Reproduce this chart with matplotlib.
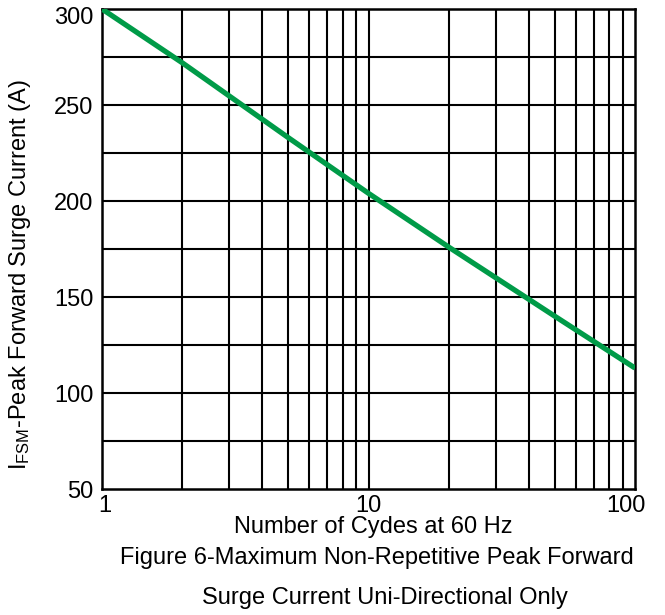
import matplotlib
matplotlib.use("Agg")
import matplotlib.pyplot as plt
from matplotlib.ticker import FixedLocator, NullFormatter
from matplotlib.transforms import ScaledTranslation

plt.rcParams['font.family'] = ['Liberation Sans', 'DejaVu Sans']
plt.rcParams['mathtext.fontset'] = 'custom'
plt.rcParams['mathtext.rm'] = 'Liberation Sans'
plt.rcParams['mathtext.it'] = 'Liberation Sans'

# surge current curve
cycles = [1, 2, 5, 10, 20, 50, 100]
current = [300, 272, 233, 204, 176, 140, 113]

y_ticks = [50, 100, 150, 200, 250, 300]
y_grid = [75, 100, 125, 150, 175, 200, 225, 250, 275]
x_ticks = [1, 10, 100]
x_tick_labels = ["1", "10", "100"]
x_grid = [2, 3, 4, 5, 6, 7, 8, 9, 10, 20, 30, 40, 50, 60, 70, 80, 90]

FS = 17

fig = plt.figure(figsize=(6.65, 6.15), dpi=100)
ax = fig.add_axes([102 / 665, 1 - 489 / 615, 533 / 665, 480 / 615])

for v in x_grid:
    ax.axvline(v, color='black', linewidth=1.5, zorder=1)
for v in y_grid:
    ax.axhline(v, color='black', linewidth=1.5, zorder=1)

ax.plot(cycles, current, color='#009B48', linewidth=3.8, solid_capstyle='butt', zorder=3)

ax.set_xscale('log')
ax.set_xlim(1, 100)
ax.set_ylim(50, 300)
ax.xaxis.set_major_locator(FixedLocator(x_ticks))
ax.set_xticklabels(x_tick_labels)
ax.xaxis.set_minor_formatter(NullFormatter())
ax.xaxis.set_minor_locator(FixedLocator([]))
ax.set_yticks(y_ticks)
ax.tick_params(axis='both', length=0, labelsize=FS)
ax.tick_params(axis='x', pad=4)
ax.tick_params(axis='y', pad=6)

# nudge end labels like the original
xl = ax.get_xticklabels()
xl[0].set_transform(xl[0].get_transform() + ScaledTranslation(3 / 100, 0, fig.dpi_scale_trans))
xl[-1].set_transform(xl[-1].get_transform() + ScaledTranslation(-9 / 100, 0, fig.dpi_scale_trans))
yl = ax.get_yticklabels()
yl[-1].set_transform(yl[-1].get_transform() + ScaledTranslation(0, -7 / 100, fig.dpi_scale_trans))

for s in ax.spines.values():
    s.set_linewidth(1.8)
    s.set_color('black')

fig.text(373 / 665, 1 - 527 / 615, "Number of Cydes at 60 Hz", ha='center', va='center', fontsize=FS)
fig.text(377 / 665, 1 - 558 / 615, "Figure 6-Maximum Non-Repetitive Peak Forward", ha='center', va='center', fontsize=FS)
fig.text(385 / 665, 1 - 598 / 615, "Surge Current Uni-Directional Only", ha='center', va='center', fontsize=FS)
fig.text(20 / 665, 1 - 275 / 615, r"I$_{\mathrm{FSM}}$-Peak Forward Surge Current (A)",
         ha='center', va='center', rotation=90, fontsize=FS)

fig.savefig("out.png", dpi=100)
